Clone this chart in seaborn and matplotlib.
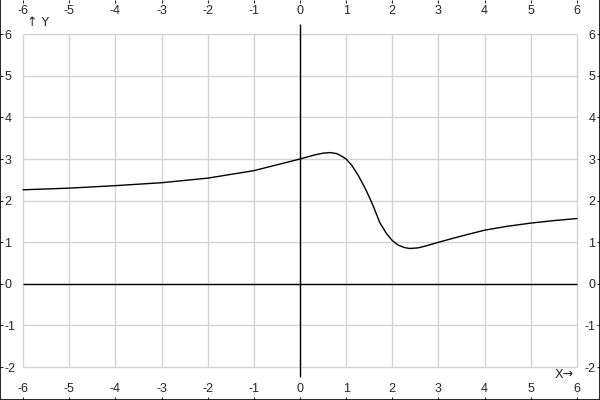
import matplotlib
matplotlib.use("Agg")
import matplotlib.pyplot as plt
import pandas as pd
import seaborn as sns

# === Данные ===
curve_x = [-6.0, -5.0, -4.0, -3.0, -2.0, -1.5, -1.0, -0.5, 0.0, 0.325, 0.5, 0.65, 0.795,
           0.9, 1.0, 1.12, 1.26, 1.41, 1.52, 1.59, 1.73, 1.88, 2.0, 2.13, 2.27, 2.38, 2.56,
           2.74, 3.0, 3.5, 4.0, 4.5, 5.0, 5.5, 6.0]
curve_y = [2.26, 2.30, 2.36, 2.43, 2.54, 2.63, 2.72, 2.86, 3.00, 3.10, 3.14, 3.155, 3.13,
           3.07, 3.00, 2.85, 2.61, 2.30, 2.04, 1.86, 1.47, 1.20, 1.04, 0.93, 0.87, 0.85, 0.865,
           0.915, 1.00, 1.15, 1.29, 1.385, 1.46, 1.52, 1.57]

x_ticks = [-6, -5, -4, -3, -2, -1, 0, 1, 2, 3, 4, 5, 6]
y_ticks = [-2, -1, 0, 1, 2, 3, 4, 5, 6]

sns.set_style("white")
plt.rcParams['font.family'] = ['Liberation Sans', 'DejaVu Sans']
plt.rcParams['axes.unicode_minus'] = False

fig = plt.figure(figsize=(6, 4), dpi=100)
ax = fig.add_axes([0, 0, 1, 1])

ax.set_xlim(-6.5, 6.5)
ax.set_ylim(-2.79, 6.82)

# сетка только внутри области данных
ax.vlines(x_ticks, y_ticks[0], y_ticks[-1], color="#d3d3d3", lw=1.0, zorder=1)
ax.hlines(y_ticks, x_ticks[0], x_ticks[-1], color="#d3d3d3", lw=1.0, zorder=1)

# оси координат
ax.hlines(0, x_ticks[0], x_ticks[-1], color="black", lw=1.0, zorder=2)
ax.vlines(0, y_ticks[0] - 0.24, y_ticks[-1] + 0.24, color="black", lw=1.0, zorder=2)

df = pd.DataFrame({"x": curve_x, "y": curve_y})
sns.lineplot(data=df, x="x", y="y", ax=ax, color="black", lw=1.0, sort=False, zorder=3)

ax.set_xlabel("")
ax.set_ylabel("")
ax.set_xticks(x_ticks)
ax.set_yticks(y_ticks)

for s in ["left", "bottom", "right"]:
    ax.spines[s].set_color("black")
    ax.spines[s].set_linewidth(1.2)
ax.spines["top"].set_visible(False)

ax.tick_params(axis="x", direction="in", length=2.5, width=0.8, labelsize=9,
               top=True, bottom=True, labeltop=True, labelbottom=True, pad=-12)
ax.tick_params(axis="y", direction="in", length=2.5, width=0.8, labelsize=9,
               left=True, right=True, labelleft=True, labelright=True, pad=-3.2)

for t in ax.yaxis.get_major_ticks():
    t.label1.set_horizontalalignment("left")
    t.label2.set_horizontalalignment("right")

# подписи осей
ax.text(-5.92, 6.27, "↑ Y", fontsize=9, ha="left", va="center",
        family=['DejaVu Sans'])
ax.text(5.93, -2.17, "X→", fontsize=9, ha="right", va="center",
        family=['DejaVu Sans'])

fig.savefig("out.png", dpi=100)
